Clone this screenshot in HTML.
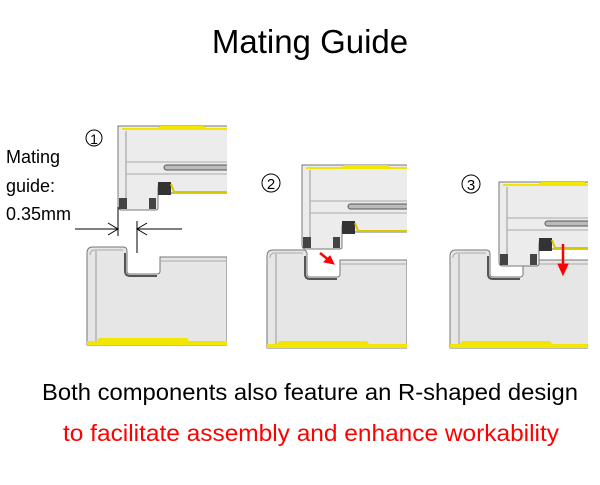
<!DOCTYPE html>
<html><head><meta charset="utf-8"><style>
body{margin:0;background:#fff;width:600px;height:480px;overflow:hidden;font-family:"Liberation Sans",sans-serif}
</style></head><body>
<svg width="600" height="480" viewBox="0 0 600 480" xmlns="http://www.w3.org/2000/svg">
<defs>
<g id="lower">
  <path d="M0,6 Q0,0 6,0 L36,0 Q40,0 40,4 L40,24 Q40,27 43,27 L70,27 Q73,27 73,24 L73,10 L140,10 L140,98 L0,98 Z" fill="#e6e6e6" stroke="#777" stroke-width="1"/>
  <line x1="9" y1="4" x2="9" y2="96" stroke="#999"/>
  <path d="M3,8 Q3,3 8,3 L36,3" fill="none" stroke="#aaa"/>
  <path d="M38,6 L38,24 Q38,29 43,29 L70,29" fill="none" stroke="#555" stroke-width="2"/>
  <path d="M73,14 L140,14" stroke="#aaa"/>
  <path d="M0,94 L10,94 L12,91 L100,91 L102,94 L140,94 L140,98 L0,98 Z" fill="#f2e600"/>
</g>
<g id="upper">
  <path d="M0,0 L110,0 L110,67 L52,67 L52,60 Q52,57 48,57 L44,57 Q40,57 40,62 L40,82 Q40,84 37,84 L4,84 Q0,84 0,80 Z" fill="#ececec" stroke="#777"/>
  <path d="M4,2 L40,2 L42,0 L86,0 L88,2 L110,2 L110,4 L4,4 Z" fill="#f2e600"/>
  <line x1="8" y1="5" x2="8" y2="82" stroke="#999"/>
  <line x1="8" y1="36" x2="110" y2="36" stroke="#aaa"/>
  <line x1="8" y1="48" x2="110" y2="48" stroke="#aaa"/>
  <rect x="46" y="39" width="70" height="5" rx="2.5" fill="#bbb" stroke="#555"/>
  <rect x="40" y="56" width="13" height="13" fill="#333"/>
  <rect x="1" y="72" width="8" height="11" fill="#444"/>
  <rect x="31" y="72" width="7" height="11" fill="#444"/>
  <path d="M53,58 L56,66 L110,66" fill="none" stroke="#d8c800" stroke-width="2"/>
</g>
</defs>
<text x="310" y="53" font-size="33" text-anchor="middle" fill="#000">Mating Guide</text>

<svg x="0" y="0" width="227" height="480"><use href="#lower" x="87" y="247"/><use href="#upper" x="118" y="126"/></svg>
<svg x="0" y="0" width="407" height="480"><use href="#lower" x="267" y="250"/><use href="#upper" x="302" y="165"/></svg>
<svg x="0" y="0" width="588" height="480"><use href="#lower" x="450" y="250"/><use href="#upper" x="499" y="182"/></svg>

<g font-size="18" fill="#000">
<text x="6" y="163">Mating</text>
<text x="6" y="192">guide:</text>
<text x="6" y="220">0.35mm</text>
</g>
<g fill="none" stroke="#000" stroke-width="1">
<circle cx="94" cy="138" r="8"/><circle cx="271" cy="183" r="9"/><circle cx="471" cy="184" r="9"/>
</g>
<text x="94" y="144" font-size="14" text-anchor="middle">1</text>
<text x="271" y="189" font-size="15" text-anchor="middle">2</text>
<text x="471" y="190" font-size="15" text-anchor="middle">3</text>

<g stroke="#000" stroke-width="1" fill="none">
<line x1="118" y1="207" x2="118" y2="236"/>
<line x1="137" y1="221" x2="137" y2="253"/>
<line x1="75" y1="229" x2="118" y2="229"/>
<path d="M108,223 L118,229 L108,235"/>
<line x1="137" y1="229" x2="182" y2="229"/>
<path d="M147,223 L137,229 L147,235"/>
</g>
<g stroke="#f00" stroke-width="2.5" fill="#f00">
<line x1="320" y1="253" x2="330" y2="261"/>
<path d="M334,264 L324,262 L330,256 Z" stroke-width="1"/>
<line x1="563" y1="244" x2="563" y2="266"/>
<path d="M563,275 L558,264 L568,264 Z" stroke-width="1"/>
</g>
<text x="310" y="400" font-size="23.5" text-anchor="middle" fill="#000" textLength="536" lengthAdjust="spacingAndGlyphs">Both components also feature an R-shaped design</text>
<text x="311" y="441" font-size="23.5" text-anchor="middle" fill="#f00" textLength="496" lengthAdjust="spacingAndGlyphs">to facilitate assembly and enhance workability</text>
</svg>
</body></html>
